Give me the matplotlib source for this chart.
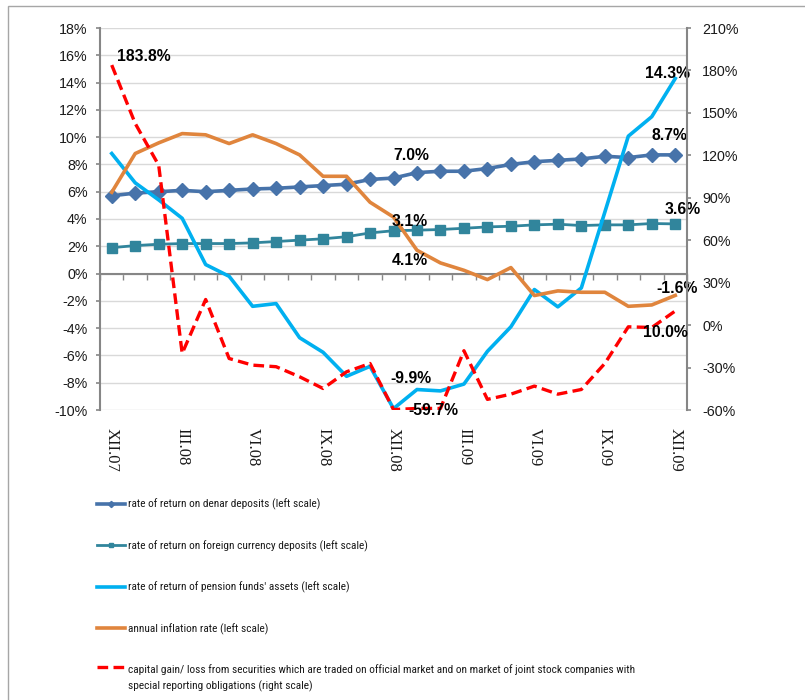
import matplotlib
matplotlib.use("Agg")
import matplotlib.pyplot as plt
import matplotlib.transforms as mtransforms
from matplotlib.patches import Rectangle
from matplotlib.legend_handler import HandlerLine2D
from matplotlib import font_manager as fm

# ---------------- data ----------------
months = ['XII.07', 'I.08', 'II.08', 'III.08', 'IV.08', 'V.08', 'VI.08', 'VII.08',
          'VIII.08', 'IX.08', 'X.08', 'XI.08', 'XII.08', 'I.09', 'II.09', 'III.09',
          'IV.09', 'V.09', 'VI.09', 'VII.09', 'VIII.09', 'IX.09', 'X.09', 'XI.09', 'XII.09']
shown_labels = ['XII.07', 'III.08', 'VI.08', 'IX.08', 'XII.08', 'III.09', 'VI.09', 'IX.09', 'XII.09']

denar = [5.7, 5.9, 6.0, 6.1, 6.0, 6.1, 6.2, 6.25, 6.35, 6.45, 6.55, 6.9, 7.0,
         7.4, 7.5, 7.5, 7.7, 8.0, 8.2, 8.3, 8.4, 8.6, 8.5, 8.7, 8.7]
foreign = [1.9, 2.05, 2.15, 2.2, 2.2, 2.2, 2.25, 2.35, 2.45, 2.55, 2.7, 2.98, 3.14,
           3.18, 3.23, 3.32, 3.42, 3.47, 3.57, 3.62, 3.52, 3.57, 3.57, 3.67, 3.64]
pension = [8.8, 6.65, 5.4, 4.05, 0.66, -0.2, -2.4, -2.2, -4.7, -5.77, -7.53, -6.8, -9.9,
           -8.5, -8.6, -8.1, -5.7, -3.9, -1.17, -2.44, -1.05, 4.5, 10.07, 11.5, 14.3]
inflation = [5.96, 8.8, 9.58, 10.26, 10.17, 9.53, 10.17, 9.53, 8.7, 7.13, 7.13, 5.23, 4.14,
             1.71, 0.78, 0.24, -0.44, 0.44, -1.61, -1.27, -1.37, -1.37, -2.4, -2.3, -1.6]
capital = [183.8, 142.5, 113.0, -20.0, 18.1, -23.6, -28.3, -29.4, -36.5, -44.8, -33.0, -27.1, -59.7,
           -58.9, -58.9, -18.1, -52.5, -48.8, -43.1, -48.8, -45.5, -27.1, -1.2, -1.7, 10.0]

legend_labels = [
    "rate of return on denar deposits (left scale)",
    "rate of return on foreign currency deposits (left scale)",
    "rate of return of pension funds' assets (left scale)",
    "annual inflation rate (left scale)",
    "capital gain/ loss from securities which are traded on official market and on market of joint stock companies with\nspecial reporting obligations (right scale)",
]

# pick a condensed family if one is installed
_names = {f.name for f in fm.fontManager.ttflist}
_cands = ['Liberation Sans Narrow', 'Roboto Condensed', 'PT Sans Narrow', 'Archivo Narrow',
          'Open Sans Condensed', 'Encode Sans Condensed', 'Fira Sans Condensed',
          'IBM Plex Sans Condensed', 'Asap Condensed', 'Barlow Semi Condensed']
LEG_FAMILY = [n for n in _cands if n in _names][:1] + ['Liberation Sans', 'DejaVu Sans']

# ---------------- styling ----------------
W, H = 805, 700
fig = plt.figure(figsize=(W / 100, H / 100), dpi=100)
fig.patch.set_facecolor('white')

# outer frame (left/top visible)
fig.add_artist(Rectangle((8 / W, -0.1), 1.2, 1 - 6 / H + 0.1, transform=fig.transFigure,
                         fill=False, edgecolor='#A6A6A6', lw=1.0))

ax = fig.add_axes([100 / W, 1 - 410 / H, 587 / W, 382 / H])
ax2 = ax.twinx()

x = list(range(len(months)))
C_DENAR = '#4773AA'
C_FOREIGN = '#31859C'
C_PENSION = '#00B0F0'
C_INFL = '#E0853D'
C_CAP = '#FF0000'

l1, = ax.plot(x, denar, color=C_DENAR, lw=2.6, marker='D', markersize=7, zorder=3,
              label=legend_labels[0])
l2, = ax.plot(x, foreign, color=C_FOREIGN, lw=2.0, marker='s', markersize=6.5, zorder=3,
              label=legend_labels[1])
l3, = ax.plot(x, pension, color=C_PENSION, lw=2.6, zorder=3, label=legend_labels[2])
l4, = ax.plot(x, inflation, color=C_INFL, lw=2.6, zorder=3, label=legend_labels[3])
l5, = ax2.plot(x, capital, color=C_CAP, lw=2.4, dashes=(3.2, 1.6), zorder=3,
               label=legend_labels[4])

ax.set_xlim(-0.5, len(months) - 0.5)
ax.set_ylim(-10, 18)
ax2.set_ylim(-60, 210)
ax.set_yticks(range(-10, 19, 2))
ax2.set_yticks(range(-60, 211, 30))
ax.yaxis.set_major_formatter(plt.FuncFormatter(lambda v, p: f"{v:.0f}%"))
ax2.yaxis.set_major_formatter(plt.FuncFormatter(lambda v, p: f"{v:.0f}%"))

ax.grid(axis='y', color='#D9D9D9', lw=1.0, zorder=0)
ax.set_axisbelow(True)

spine_c = '#868686'
for a in (ax, ax2):
    a.spines['top'].set_visible(False)
    a.spines['left'].set_color(spine_c)
    a.spines['right'].set_color(spine_c)
    a.spines['left'].set_linewidth(1.5)
    a.spines['right'].set_linewidth(1.5)
ax.spines['right'].set_visible(False)
ax2.spines['left'].set_visible(False)
ax2.spines['bottom'].set_visible(False)
ax.spines['bottom'].set_position(('data', 0))
ax.spines['bottom'].set_color(spine_c)
ax.spines['bottom'].set_linewidth(1.5)
ax.spines['bottom'].set_zorder(2)

tick_family = ['Liberation Sans', 'DejaVu Sans']
ax.tick_params(axis='y', direction='out', length=3, width=1.2, color=spine_c, pad=6,
               labelcolor='#1a1a1a')
ax2.tick_params(axis='y', direction='out', length=3, width=1.2, color=spine_c, pad=8,
                labelcolor='#1a1a1a')
for lab in ax.get_yticklabels() + ax2.get_yticklabels():
    lab.set_fontfamily(tick_family)
    lab.set_fontsize(10.3)

# category boundary ticks on the zero line
ax.set_xticks([i - 0.5 for i in range(len(months) + 1)])
ax.tick_params(axis='x', direction='out', length=4, width=1.0, color=spine_c, labelbottom=False)

# category labels at the bottom
trans = mtransforms.blended_transform_factory(ax.transData, ax.transAxes)
for i, m in enumerate(months):
    if m in shown_labels:
        ax.text(i, -18 / 382, m, transform=trans, rotation=-90, ha='center', va='top',
                family=['Liberation Serif', 'DejaVu Serif'], fontsize=12, color='#1a1a1a')

# data labels (series, index, dx px, dy px downwards)
series_map = {'denar': (ax, denar), 'foreign': (ax, foreign), 'pension': (ax, pension),
              'inflation': (ax, inflation), 'capital': (ax2, capital)}
label_spec = [
    ('capital', 0, 32, -9),
    ('denar', 12, 18, -23),
    ('foreign', 12, 16, -9),
    ('inflation', 12, 16, 43),
    ('pension', 12, 17, -30),
    ('capital', 12, 40, 1),
    ('pension', 24, -8, -5),
    ('denar', 24, -6, -19),
    ('foreign', 24, 7, -14),
    ('inflation', 24, 2, -7),
    ('capital', 24, -10, 22),
]
for name, idx, dx, dy in label_spec:
    a, vals = series_map[name]
    a.annotate(f"{vals[idx]:.1f}%", xy=(idx, vals[idx]), xytext=(dx * 0.72, -dy * 0.72),
               textcoords='offset points', ha='center', va='center', fontweight='bold',
               family=['Liberation Sans', 'DejaVu Sans'], fontsize=11.3, color='black',
               zorder=5, annotation_clip=False)


class TopLineHandler(HandlerLine2D):
    def __init__(self, shift=0.0, **kw):
        super().__init__(**kw)
        self.shift = shift

    def create_artists(self, legend, orig_handle, xdescent, ydescent, width, height,
                       fontsize, trans):
        arts = super().create_artists(legend, orig_handle, xdescent, ydescent, width,
                                      height, fontsize, trans)
        for art in arts:
            yd = art.get_ydata()
            art.set_ydata([v + self.shift for v in yd])
        return arts


leg = fig.legend([l1, l2, l3, l4, l5], legend_labels, loc='upper left',
                 bbox_to_anchor=(97 / W, 1 - 499 / H), frameon=False,
                 prop=dict(family=LEG_FAMILY, size=8.2),
                 handlelength=2.45, handletextpad=0.25, labelspacing=2.62, borderpad=0,
                 borderaxespad=0, markerscale=0.45, numpoints=1,
                 handler_map={l5: TopLineHandler(shift=8.0)})
for t in leg.get_texts():
    t.set_color('#1a1a1a')
    t.set_linespacing(1.55)

fig.savefig('out.png', dpi=100, facecolor='white')
